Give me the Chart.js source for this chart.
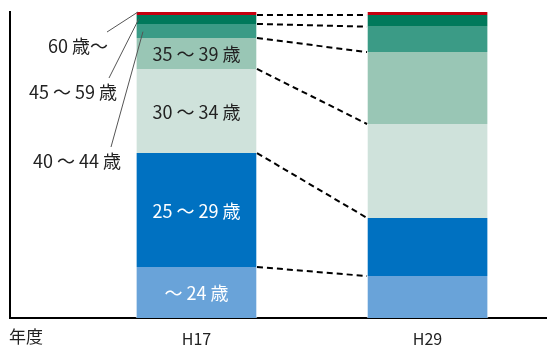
<!DOCTYPE html>
<html>
<head>
<meta charset="utf-8">
<script src="https://cdn.jsdelivr.net/npm/chart.js@4/dist/chart.umd.min.js"></script>
<style>
  html, body { margin: 0; padding: 0; background: #fff; }
  #wrap { width: 547px; height: 346px; position: relative; }
</style>
</head>
<body>
<div id="wrap"><canvas id="ageChart"></canvas></div>
<script>
// categories (fiscal years) and their x positions on the index axis
const years = ['H17', 'H29'];
const yearPos = [1, 2];

// age groups, bottom to top
const ageGroups = ['～ 24 歳', '25 ～ 29 歳', '30 ～ 34 歳', '35 ～ 39 歳', '40 ～ 44 歳', '45 ～ 59 歳', '60 歳～'];
const shareH17 = [16.7, 37.2, 27.5, 10.1, 4.6, 2.9, 1.0];
const shareH29 = [13.7, 19.0, 30.7, 23.5, 8.3, 3.8, 1.0];
const groupColors = ['#69a3d9', '#0071c1', '#cfe2db', '#99c6b5', '#3b9b86', '#00795b', '#c5000f'];
const labelColors = ['#ffffff', '#ffffff', '#222222', '#222222'];

const FONT = '"Noto Sans CJK JP", "Noto Sans", sans-serif';

const datasets = ageGroups.map((g, i) => ({
  label: g,
  data: [
    { x: yearPos[0], y: shareH17[i] },
    { x: yearPos[1], y: shareH29[i] },
  ],
  backgroundColor: groupColors[i],
  borderColor: 'rgba(255,255,255,0.55)',
  borderWidth: { left: 1, right: 1, top: 0, bottom: 0 },
  borderSkipped: false,
  barThickness: 121,
  grouped: false,
}));

// labels inside H17 bar, dashed connectors, leader lines and 年度
const decorations = {
  id: 'decorations',
  afterDatasetsDraw(chart) {
    const ctx = chart.ctx;
    const metas = chart.data.datasets.map((d, i) => chart.getDatasetMeta(i));

    // dashed connectors between the tops of the segments
    ctx.save();
    ctx.strokeStyle = '#000';
    ctx.lineWidth = 2;
    ctx.setLineDash([6, 4]);
    for (let i = 0; i < metas.length - 1; i++) {
      const a = metas[i].data[0];
      const b = metas[i].data[1];
      ctx.beginPath();
      ctx.moveTo(a.x + a.width / 2, a.y);
      ctx.lineTo(b.x - b.width / 2, b.y);
      ctx.stroke();
    }
    ctx.restore();

    // labels inside the H17 bar
    ctx.save();
    ctx.font = '18px ' + FONT;
    ctx.textAlign = 'center';
    ctx.textBaseline = 'middle';
    labelColors.forEach((c, i) => {
      const el = metas[i].data[0];
      ctx.fillStyle = c;
      ctx.fillText(ageGroups[i], el.x, (el.y + el.base) / 2 + 1);
    });
    ctx.restore();

    // outside labels with leader lines for the thin top segments
    const outside = [
      { idx: 6, text: '60 歳～', tx: 108, ty: 46, lx: 107, ly: 32, frac: 0.0, dx: 2 },
      { idx: 5, text: '45 ～ 59 歳', tx: 117, ty: 92, lx: 109, ly: 78, frac: 0.4, dx: 3 },
      { idx: 4, text: '40 ～ 44 歳', tx: 121, ty: 161, lx: 111, ly: 147, frac: 0.55, dx: 7 },
    ];
    ctx.save();
    ctx.font = '18px ' + FONT;
    ctx.textAlign = 'right';
    ctx.textBaseline = 'middle';
    outside.forEach(o => {
      const el = metas[o.idx].data[0];
      const ex = el.x - el.width / 2 + o.dx;
      const ey = el.y + (el.base - el.y) * o.frac;
      ctx.strokeStyle = '#555';
      ctx.lineWidth = 1;
      ctx.beginPath();
      ctx.moveTo(o.lx, o.ly);
      ctx.lineTo(ex, ey);
      ctx.stroke();
      ctx.fillStyle = '#222';
      ctx.fillText(o.text, o.tx, o.ty);
    });
    ctx.restore();

    // axis caption
    ctx.save();
    ctx.font = '17px ' + FONT;
    ctx.fillStyle = '#222';
    ctx.textAlign = 'left';
    ctx.textBaseline = 'middle';
    ctx.fillText('年度', 9, 337);
    ctx.restore();
  },
};

const ctx = document.getElementById('ageChart').getContext('2d');
new Chart(ctx, {
  type: 'bar',
  data: { datasets: datasets },
  options: {
    responsive: true,
    maintainAspectRatio: false,
    animation: false,
    layout: { padding: { top: 12, left: 10, right: 0, bottom: 0 } },
    plugins: {
      legend: { display: false },
      tooltip: { enabled: false },
    },
    scales: {
      x: {
        type: 'linear',
        offset: false,
        min: 0.193,
        max: 2.517,
        grid: { display: false, drawTicks: false },
        border: { display: true, color: '#000', width: 2 },
        afterBuildTicks: (scale) => {
          scale.ticks = yearPos.map(v => ({ value: v }));
        },
        afterFit: (scale) => { scale.height = 28; },
        ticks: {
          autoSkip: false,
          maxRotation: 0,
          padding: 11,
          color: '#222',
          font: { size: 16, family: FONT },
          callback: (v) => years[yearPos.indexOf(v)] || '',
        },
      },
      y: {
        stacked: true,
        min: 0,
        max: 100,
        grid: { display: false, drawTicks: false },
        border: { display: true, color: '#000', width: 2 },
        ticks: { display: false },
        afterFit: (scale) => { scale.width = 0; },
      },
    },
  },
  plugins: [decorations],
});
</script>
</body>
</html>
